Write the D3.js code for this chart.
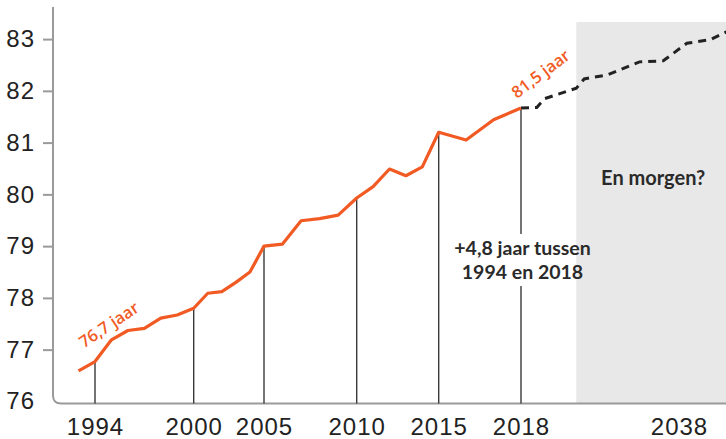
<!DOCTYPE html>
<html>
<head>
<meta charset="utf-8">
<script src="https://cdn.jsdelivr.net/npm/d3@7"></script>
<style>
	body { margin: 0; background: #fff; }
	.axis text { font-family: "Liberation Sans", Arial, sans-serif; font-size: 24px; fill: #222; letter-spacing: 1px; }
	.note { font-family: Lato, "Open Sans", sans-serif; }
	.orange { font-family: "Open Sans", Lato, sans-serif; }
</style>
</head>
<body>
<div id="chart"></div>
<script>
// life expectancy, observed
const histYears = [1993, 1994, 1995, 1996, 1997, 1998, 1999, 2000, 2001, 2002, 2003, 2004, 2005,
	2006, 2007, 2008, 2009, 2010, 2011, 2012, 2013, 2014, 2015, 2016, 2017, 2018];
const histValues = [76.59, 76.77, 77.19, 77.37, 77.41, 77.61, 77.67, 77.8, 78.09, 78.12, 78.3, 78.5, 79.0,
	79.04, 79.49, 79.53, 79.6, 79.93, 80.15, 80.49, 80.36, 80.53, 81.2, 81.05, 81.44, 81.67];

// projection
const projYears = [2018, 2020, 2021, 2025, 2026, 2029, 2033, 2036, 2039, 2042, 2044];
const projValues = [81.67, 81.68, 81.85, 82.05, 82.23, 82.31, 82.56, 82.58, 82.92, 82.99, 83.14];

const xTickYears = [1994, 2000, 2005, 2010, 2015, 2018, 2038];
const markerYears = [1994, 2000, 2005, 2010, 2015, 2018];
const yTicks = [76, 77, 78, 79, 80, 81, 82, 83];
const forecastStart = 2025;

// set the dimensions
const width = 726, height = 439;
const margin = { top: 7, left: 53 };
const yMax = 83.62, shadeTop = 83.33;
// the year axis is stretched by hand, like the printed graphic
const xAnchors = [95, 193.7, 264, 356.7, 438.7, 521, 679];
const yBottom = 401.4;

const x = d3.scaleLinear().domain(xTickYears).range(xAnchors);
const y = d3.scaleLinear().domain([76, yMax]).range([yBottom, margin.top]);
const base = yBottom + 2;

const hist = histYears.map((d, i) => ({ year: d, value: histValues[i] }));
const proj = projYears.map((d, i) => ({ year: d, value: projValues[i] }));
const valueAt = yr => histValues[histYears.indexOf(yr)];

const svg = d3.select("#chart").append("svg")
	.attr("width", width)
	.attr("height", height);

// grey future area
svg.append("rect")
	.attr("x", x(forecastStart))
	.attr("y", y(shadeTop))
	.attr("width", width - x(forecastStart))
	.attr("height", base - y(shadeTop))
	.style("fill", "#e8e8e8");

// y axis
const yAxis = svg.append("g")
	.attr("class", "axis")
	.attr("transform", "translate(" + margin.left + ",0)")
	.call(d3.axisLeft(y).tickValues(yTicks.slice(1)).tickSize(10).tickPadding(8).tickFormat(d3.format("d")));
yAxis.select(".domain").remove();
yAxis.selectAll("line").style("stroke", "#9a9a9a").style("stroke-width", 2);
// 76 sits in the corner, no tick
yAxis.append("text")
	.attr("x", -18)
	.attr("y", y(76))
	.attr("dy", "0.32em")
	.attr("text-anchor", "end")
	.text(76);

// x axis labels
const xAxis = svg.append("g")
	.attr("class", "axis")
	.attr("transform", "translate(0," + base + ")")
	.call(d3.axisBottom(x).tickValues(xTickYears).tickSize(0).tickPadding(15).tickFormat(d3.format("d")));
xAxis.select(".domain").remove();

// frame with the rounded corner
const r = 8;
svg.append("path")
	.attr("d", "M" + margin.left + "," + margin.top + "V" + (base - r) +
		"Q" + margin.left + "," + base + " " + (margin.left + r) + "," + base + "H" + width)
	.style("fill", "none")
	.style("stroke", "#9a9a9a")
	.style("stroke-width", 2);

// note for the last year, line is cut around it
const note = svg.append("text")
	.attr("class", "note")
	.attr("text-anchor", "middle")
	.style("font-size", "19.5px")
	.style("font-weight", 700)
	.style("fill", "#2a2a2a");
note.append("tspan").attr("x", x(2018) + 1.5).attr("y", y(78.83)).text("+4,8 jaar tussen");
note.append("tspan").attr("x", x(2018) + 1.5).attr("y", y(78.83) + 24).text("1994 en 2018");
const nb = note.node().getBBox();

// vertical year lines
markerYears.forEach(yr => {
	const segs = yr === 2018
		? [[y(valueAt(yr)), nb.y - 2], [nb.y + nb.height + 3, base]]
		: [[y(valueAt(yr)), base]];
	segs.forEach(s => {
		svg.append("line")
			.attr("x1", x(yr)).attr("x2", x(yr))
			.attr("y1", s[0]).attr("y2", s[1])
			.style("stroke", "#3a3a3a")
			.style("stroke-width", 1.4);
	});
});

// lines
const line = d3.line()
	.x(d => x(d.year))
	.y(d => y(d.value));

svg.append("path")
	.datum(proj)
	.attr("d", line)
	.style("fill", "none")
	.style("stroke", "#222")
	.style("stroke-width", 3)
	.style("stroke-dasharray", "8,6");

svg.append("path")
	.datum(hist)
	.attr("d", line)
	.style("fill", "none")
	.style("stroke", "#f25a24")
	.style("stroke-width", 3.2)
	.style("stroke-linejoin", "round");

// orange value labels
svg.append("text")
	.attr("class", "orange")
	.attr("transform", "translate(" + (x(1994) - 11) + "," + (y(valueAt(1994)) - 13) + ") rotate(-34)")
	.style("font-size", "16.5px")
	.style("font-weight", 600)
	.style("fill", "#f25a24")
	.text("76,7 jaar");

svg.append("text")
	.attr("class", "orange")
	.attr("transform", "translate(" + (x(2018) - 4) + "," + (y(valueAt(2018)) - 9) + ") rotate(-37)")
	.style("font-size", "16.5px")
	.style("font-weight", 600)
	.style("fill", "#f25a24")
	.text("81,5 jaar");

// future label
svg.append("text")
	.attr("class", "note")
	.attr("x", (x(forecastStart) + width) / 2 + 2)
	.attr("y", y(80.18))
	.attr("text-anchor", "middle")
	.style("font-size", "20px")
	.style("font-weight", 700)
	.style("fill", "#2a2a2a")
	.text("En morgen?");
</script>
</body>
</html>
